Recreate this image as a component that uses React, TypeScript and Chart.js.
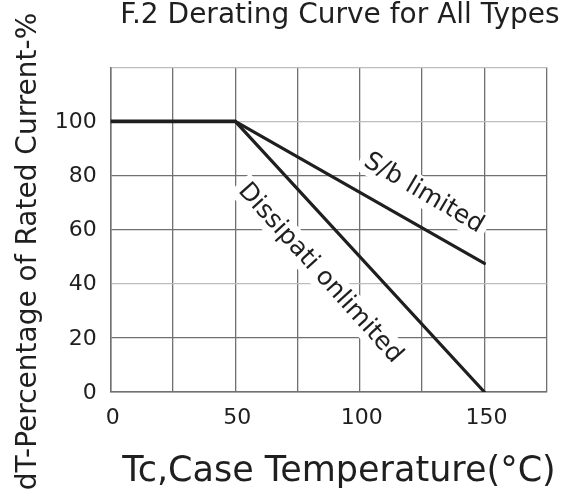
import { useEffect, useRef } from "react";
import { Chart, registerables } from "chart.js";

Chart.register(...registerables);

// ---- data ----
const chartTitle = "F.2 Derating Curve for All Types";
const xAxisTitle = "Tc,Case Temperature(°C)";
const yAxisTitle = "dT-Percentage of Rated Current-%";

const xLabeledTicks = [0, 50, 100, 150];
const yLabeledTicks = [0, 20, 40, 60, 80, 100];

const flatX = [0, 50];
const flatY = [100, 100];
const sbX = [50, 150];
const sbY = [100, 47.5];
const disX = [50, 150];
const disY = [100, 0];

const sbLabel = "S/b limited";
const disLabel = "Dissipati onlimited";
// annotation anchors in data coordinates (x, y)
const sbLabelAt = [124.3, 71.3];
const disLabelAt = [82.1, 42.3];

const FONT = "'DejaVu Sans', 'Liberation Sans', Arial, sans-serif";
const INK = "#1f1f1f";

const toPoints = (xs: number[], ys: number[]) => xs.map((x, i) => ({ x, y: ys[i] }));

const textPlugin = {
  id: "derating-texts",
  beforeDatasetsDraw(chart: any) {
    const { ctx, scales } = chart;
    const xs = scales.x;
    const ys = scales.y;
    const drawRot = (text: string, at: number[], angleDeg: number) => {
      const px = xs.getPixelForValue(at[0]);
      const py = ys.getPixelForValue(at[1]);
      const size = 25;
      ctx.save();
      ctx.translate(px, py);
      ctx.rotate((angleDeg * Math.PI) / 180);
      ctx.font = `${size}px ${FONT}`;
      const w = ctx.measureText(text).width;
      ctx.fillStyle = "#ffffff";
      ctx.fillRect(-w / 2 - 5, -size * 0.85, w + 10, size * 1.15);
      ctx.fillStyle = INK;
      ctx.textAlign = "center";
      ctx.textBaseline = "alphabetic";
      ctx.fillText(text, 0, 0);
      ctx.restore();
    };
    drawRot(sbLabel, sbLabelAt, 30.5);
    drawRot(disLabel, disLabelAt, 48);
  },
  afterDraw(chart: any) {
    const { ctx } = chart;
    ctx.save();
    ctx.fillStyle = INK;
    ctx.textBaseline = "alphabetic";
    ctx.textAlign = "center";
    ctx.font = `28px ${FONT}`;
    ctx.fillText(chartTitle, 340, 23);

    ctx.font = `35px ${FONT}`;
    ctx.fillText(xAxisTitle, 339, 481);

    ctx.translate(36, 251.5);
    ctx.rotate(-Math.PI / 2);
    ctx.font = `28px ${FONT}`;
    ctx.fillText(yAxisTitle, 0, 0);
    ctx.restore();
  },
};

export default function App() {
  const canvasRef = useRef<HTMLCanvasElement | null>(null);

  useEffect(() => {
    if (!canvasRef.current) return;
    const chart = new Chart(canvasRef.current, {
      type: "line",
      data: {
        datasets: [
          {
            data: toPoints(flatX, flatY),
            borderColor: INK,
            borderWidth: 3.8,
            pointRadius: 0,
            borderCapStyle: "round",
          },
          {
            data: toPoints(sbX, sbY),
            borderColor: INK,
            borderWidth: 3.2,
            pointRadius: 0,
            borderCapStyle: "round",
          },
          {
            data: toPoints(disX, disY),
            borderColor: INK,
            borderWidth: 3.2,
            pointRadius: 0,
            borderCapStyle: "round",
          },
        ],
      },
      plugins: [textPlugin],
      options: {
        animation: false,
        responsive: true,
        maintainAspectRatio: false,
        layout: { padding: { top: 67.3, right: 25.3, left: 0, bottom: 0 } },
        plugins: {
          legend: { display: false },
          tooltip: { enabled: false },
          title: { display: false },
        },
        scales: {
          x: {
            type: "linear",
            min: 0,
            max: 175,
            afterFit: (s: any) => {
              s.height = 111;
            },
            ticks: {
              stepSize: 25,
              autoSkip: false,
              maxRotation: 0,
              padding: 13,
              labelOffset: 2,
              color: INK,
              font: { family: FONT, size: 22 },
              callback: (v: any) => (xLabeledTicks.includes(Number(v)) ? String(v) : ""),
            },
            grid: {
              color: "#707070",
              lineWidth: 1.3,
              drawTicks: false,
            },
            border: { color: "#707070", width: 1.5 },
          },
          y: {
            min: 0,
            max: 120,
            afterFit: (s: any) => {
              s.width = 110.7;
            },
            ticks: {
              stepSize: 20,
              autoSkip: false,
              padding: 14,
              labelOffset: 1,
              color: INK,
              font: { family: FONT, size: 22 },
              callback: (v: any) => (yLabeledTicks.includes(Number(v)) ? String(v) : ""),
            },
            grid: {
              color: (c: any) => {
                const v = c.tick ? c.tick.value : -1;
                return v === 40 || v === 100 || v === 120 ? "#bdbdbd" : "#707070";
              },
              lineWidth: 1.3,
              drawTicks: false,
            },
            border: { color: "#707070", width: 1.5 },
          },
        },
      },
    } as any);
    return () => chart.destroy();
  }, []);

  return (
    <div style={{ position: "absolute", left: 0, top: 0, width: 572, height: 503, background: "#fff" }}>
      <canvas ref={canvasRef} />
    </div>
  );
}
